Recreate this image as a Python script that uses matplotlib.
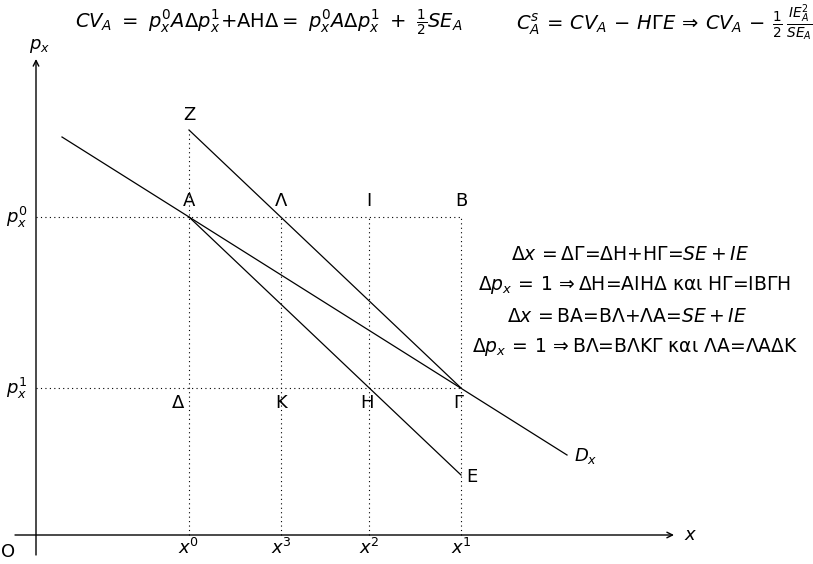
import matplotlib
matplotlib.use('Agg')
import matplotlib.pyplot as plt

plt.rcParams['mathtext.fontset'] = 'dejavusans'
plt.rcParams['font.family'] = 'DejaVu Sans'

# quantities on the x axis and prices on the y axis
x_names = ['x^0', 'x^3', 'x^2', 'x^1']
x_vals = [15.3, 24.5, 33.3, 42.5]
p_names = ['p_x^0', 'p_x^1']
p_vals = [31.8, 14.7]

# demand curve D_x (through A and Γ)
dem_x = [2.6, 53.1]
dem_y = [39.8, 8.0]
# line A -> E (through H)
ae_x = [15.3, 42.5]
ae_y = [31.8, 6.0]
# line Z -> Γ (through Λ)
zg_x = [15.3, 42.5]
zg_y = [40.5, 14.7]

# point labels
upper_labels = ['A', r'$\Lambda$', 'I', 'B']
lower_labels = ['Δ', 'K', 'H', 'Γ']
lower_shift = [-1.1, 0.0, -0.2, -0.3]

fig = plt.figure(figsize=(8.13, 5.64), dpi=100)
ax = fig.add_axes([0, 0, 1, 1])
ax.set_xlim(-3.6, 77.7)
ax.set_ylim(-2.9, 53.5)
ax.axis('off')

fs = 13
fb = 14

# axes with arrows
ax.annotate('', xy=(0, 47.6), xytext=(0, -2.0),
            arrowprops=dict(arrowstyle='->', lw=1.0, color='black', shrinkA=0, shrinkB=0))
ax.annotate('', xy=(63.8, 0), xytext=(-2.1, 0),
            arrowprops=dict(arrowstyle='->', lw=1.0, color='black', shrinkA=0, shrinkB=0))
ax.text(0.4, 48.9, '$p_x$', fontsize=fs, ha='center', va='center')
ax.text(64.8, 0, '$x$', fontsize=fs, ha='left', va='center')
ax.text(-2.8, -1.7, 'O', fontsize=fs, ha='center', va='center')

# dotted guides
dot = dict(color='black', lw=0.8, linestyle=(0, (1, 3)))
ax.plot([0, x_vals[3]], [p_vals[0], p_vals[0]], **dot)
ax.plot([0, x_vals[3]], [p_vals[1], p_vals[1]], **dot)
ax.plot([x_vals[0], x_vals[0]], [0, zg_y[0]], **dot)
for xv in x_vals[1:]:
    ax.plot([xv, xv], [0, p_vals[0]], **dot)

# lines
ax.plot(dem_x, dem_y, color='black', lw=0.9)
ax.plot(ae_x, ae_y, color='black', lw=0.9)
ax.plot(zg_x, zg_y, color='black', lw=0.9)

# tick labels
for name, xv in zip(x_names, x_vals):
    ax.text(xv, -1.3, '$' + name + '$', fontsize=fs, ha='center', va='center')
for name, pv in zip(p_names, p_vals):
    ax.text(-1.9, pv, '$' + name + '$', fontsize=fs, ha='center', va='center')

# point labels
for lab, xv in zip(upper_labels, x_vals):
    ax.text(xv, p_vals[0] + 1.6, lab, fontsize=fs, ha='center', va='center')
for lab, xv, dx in zip(lower_labels, x_vals, lower_shift):
    ax.text(xv + dx, p_vals[1] - 1.5, lab, fontsize=fs, ha='center', va='center')
ax.text(zg_x[0], zg_y[0] + 1.5, 'Z', fontsize=fs, ha='center', va='center')
ax.text(ae_x[1] + 1.1, ae_y[1] - 0.2, 'E', fontsize=fs, ha='center', va='center')
ax.text(dem_x[1] + 1.9, dem_y[1] - 0.1, '$D_x$', fontsize=fs, ha='center', va='center')

# formulas on top
ax.text(23.3, 51.2, r'$CV_A\ =\ p_x^0A\Delta p_x^1{+}\mathrm{AH\Delta}{=}\ p_x^0A\Delta p_x^1\ +\ \frac{1}{2}SE_A$',
        fontsize=fb, ha='center', va='center')
ax.text(62.8, 51.2, r'$C_A^s\,=\,CV_A\,-\,H\Gamma E\,\Rightarrow\,CV_A\,-\,\frac{1}{2}\,\frac{IE_A^2}{SE_A}$',
        fontsize=fb, ha='center', va='center')

# explanation block
block = [
    r'$\Delta x\,=$ΔΓ=ΔΗ+ΗΓ=$SE + IE$',
    r'$\Delta p_x\,=\,1\,\Rightarrow$ΔΗ=ΑΙΗΔ και ΗΓ=ΙΒΓΗ',
    r'$\Delta x\,=$ΒΑ=ΒΛ+ΛΑ=$SE + IE$',
    r'$\Delta p_x\,=\,1\,\Rightarrow$ΒΛ=ΒΛΚΓ και ΛΑ=ΛΑΔΚ',
]
block_x = [59.4, 59.9, 59.1, 59.9]
for i, line in enumerate(block):
    ax.text(block_x[i], 28.1 - 3.1 * i, line, fontsize=13.5, ha='center', va='center')

fig.savefig('out.png', dpi=100)
